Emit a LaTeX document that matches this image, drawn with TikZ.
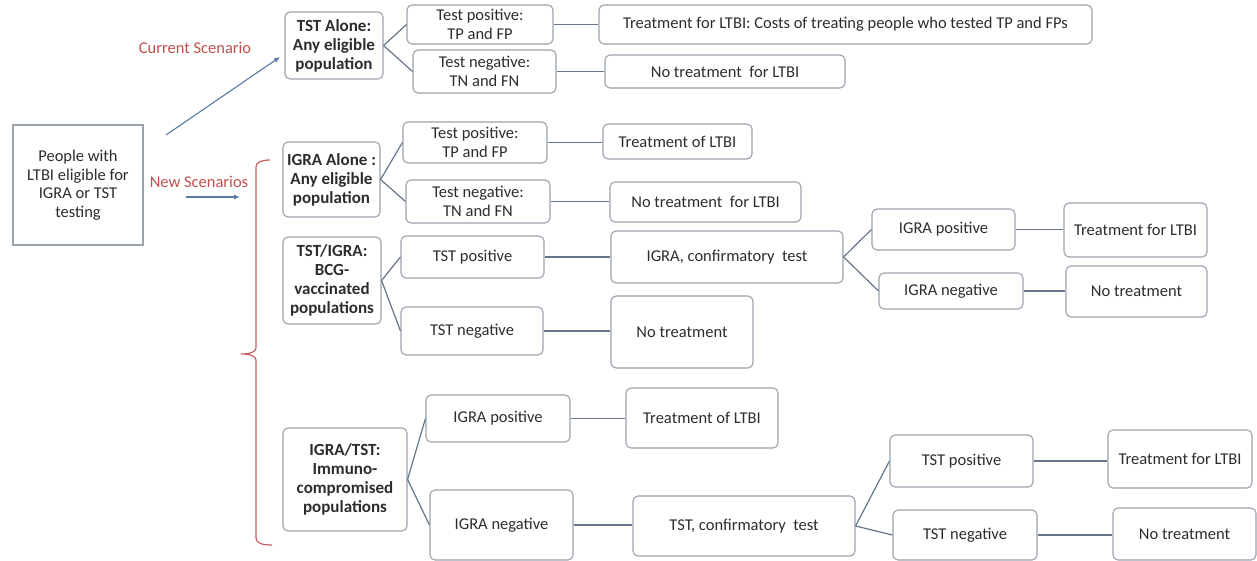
\documentclass[tikz,border=0pt]{standalone}
\usepackage{fontspec}
\setmainfont{Carlito}
\usetikzlibrary{arrows.meta}
\definecolor{boxc}{HTML}{9AA2AC}
\definecolor{linec}{HTML}{66758A}
\definecolor{redt}{HTML}{C0504D}
\definecolor{redb}{HTML}{C46060}
\definecolor{bluea}{HTML}{5878A8}
\definecolor{textc}{HTML}{2C2C2C}
\begin{document}
\begin{tikzpicture}[x=1pt,y=-1pt,
  every node/.style={text=textc,font=\fontsize{16.5}{18.5}\selectfont},
  box/.style={draw=boxc,line width=1.1pt,rounded corners=5pt,align=center,inner sep=0pt},
  sqbox/.style={draw=boxc,line width=1.1pt,align=center,inner sep=0pt},
  bbox/.style={box,font=\bfseries\fontsize{17}{19}\selectfont},
  sz/.style 2 args={minimum width=#1pt,minimum height=#2pt},
  conn/.style={draw=linec,line width=1.2pt},
  barrow/.style={draw=bluea,line width=1.1pt,-{Latex[length=6pt,width=5pt]}},
  redlab/.style={text=redt,font=\fontsize{16.5}{18.5}\selectfont},
  bracket/.style={draw=redb,line width=1.2pt}]
\useasboundingbox (0,0) rectangle (1257,561);

% root
\node[sqbox,sz={130}{120}] (ppl) at (78,185) {People with\\LTBI eligible for\\IGRA or TST\\testing};

% scenario labels and arrows
\node[redlab] (cur) at (195,48) {Current Scenario};
\node[redlab] (new) at (199,182) {New Scenarios};
\coordinate (ca1) at (166,135);
\coordinate (ca2) at (280,57);
\coordinate (na1) at (186,197);
\coordinate (na2) at (240,197);
\draw[barrow] (ca1) -- (ca2);
\draw[barrow] (na1) -- (na2);

% bracket
\draw[bracket] (270,160) .. controls (262,160) and (256,162) .. (256,167) -- (256,348)
  .. controls (256,352) and (250,354) .. (241,354)
  .. controls (250,354) and (256,356) .. (256,360) -- (256,538)
  .. controls (256,543) and (262,545) .. (272,545);

% scenario boxes
\node[bbox,sz={98}{67}] (tstA) at (334,45.5) {TST Alone:\\Any eligible\\population};
\node[bbox,sz={97}{75}] (igraA) at (331.5,179.5) {IGRA Alone :\\Any eligible\\population};
\node[bbox,sz={98}{87}] (tstigra) at (332,280.5) {TST/IGRA:\\BCG-\\vaccinated\\populations};
\node[bbox,sz={124}{103}] (igratst) at (345,479.5) {IGRA/TST:\\Immuno-\\compromised\\populations};

% TST alone branch
\node[box,sz={146}{39}] (tp1) at (480,24.5) {Test positive:\\TP and FP};
\node[box,sz={143}{43}] (tn1) at (484.5,71.5) {Test negative:\\TN and FN};
\node[box,sz={493}{39}] (tr1) at (845.5,24.5) {Treatment for LTBI: Costs of treating people who tested TP and FPs};
\node[box,sz={240}{33}] (nt1) at (725,71.5) {No treatment\ \ for LTBI};

% IGRA alone branch
\node[box,sz={144}{41}] (tp2) at (475,142.5) {Test positive:\\TP and FP};
\node[box,sz={144}{43}] (tn2) at (478,201.5) {Test negative:\\TN and FN};
\node[box,sz={149}{35}] (tr2) at (677.5,141.5) {Treatment of LTBI};
\node[box,sz={191}{40}] (nt2) at (705.5,202) {No treatment\ \ for LTBI};

% TST/IGRA branch
\node[box,sz={143}{42}] (tstp3) at (472.5,257) {TST positive};
\node[box,sz={232}{52}] (igc3) at (727,257) {IGRA, confirmatory\ \ test};
\node[box,sz={143}{41}] (igp3) at (943.5,229.5) {IGRA positive};
\node[box,sz={144}{36}] (ign3) at (951,291) {IGRA negative};
\node[box,sz={143}{54}] (trt3) at (1135.5,230) {Treatment for LTBI};
\node[box,sz={141}{51}] (nt3) at (1136.5,291.5) {No treatment};
\node[box,sz={142}{48}] (tstn3) at (472,331) {TST negative};
\node[box,sz={142}{72}] (nt3b) at (682,332) {No treatment};

% IGRA/TST branch
\node[box,sz={144}{47}] (igp4) at (498,418.5) {IGRA positive};
\node[box,sz={143}{70}] (ign4) at (501.5,525) {IGRA negative};
\node[box,sz={152}{60}] (tr4) at (702,418) {Treatment of LTBI};
\node[box,sz={222}{60}] (tc4) at (744,526) {TST, confirmatory\ \ test};
\node[box,sz={143}{52}] (tp4) at (961.5,461) {TST positive};
\node[box,sz={144}{50}] (tn4) at (965,535) {TST negative};
\node[box,sz={144}{58}] (trt4) at (1180,459) {Treatment for LTBI};
\node[box,sz={143}{52}] (nt4) at (1184.5,534) {No treatment};

% connectors: forks
\draw[conn] (tstA.east) -- (tp1.west);
\draw[conn] (tstA.east) -- (tn1.west);
\draw[conn] (igraA.east) -- (tp2.west);
\draw[conn] (igraA.east) -- (tn2.west);
\draw[conn] (tstigra.east) -- (tstp3.west);
\draw[conn] (tstigra.east) -- (tstn3.west);
\draw[conn] (igc3.east) -- (igp3.west);
\draw[conn] (igc3.east) -- (ign3.west);
\draw[conn] (igratst.east) -- (igp4.west);
\draw[conn] (igratst.east) -- (ign4.west);
\draw[conn] (tc4.east) -- (tp4.west);
\draw[conn] (tc4.east) -- (tn4.west);

% connectors: straight
\draw[conn] (tp1.east) -- (tp1.east -| tr1.west);
\draw[conn] (tn1.east) -- (tn1.east -| nt1.west);
\draw[conn] (tp2.east) -- (tp2.east -| tr2.west);
\draw[conn] (tn2.east) -- (tn2.east -| nt2.west);
\draw[conn] (tstp3.east) -- (tstp3.east -| igc3.west);
\draw[conn] (tstn3.east) -- (tstn3.east -| nt3b.west);
\draw[conn] (igp3.east) -- (igp3.east -| trt3.west);
\draw[conn] (ign3.east) -- (ign3.east -| nt3.west);
\draw[conn] (igp4.east) -- (igp4.east -| tr4.west);
\draw[conn] (ign4.east) -- (ign4.east -| tc4.west);
\draw[conn] (tp4.east) -- (tp4.east -| trt4.west);
\draw[conn] (tn4.east) -- (tn4.east -| nt4.west);
\end{tikzpicture}
\end{document}
